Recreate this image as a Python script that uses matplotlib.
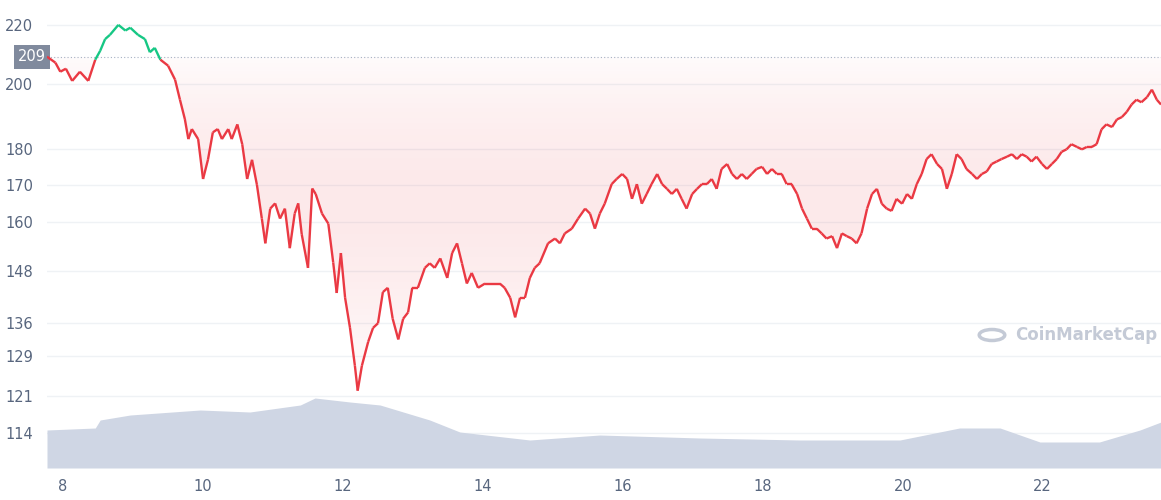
import numpy as np
import matplotlib.pyplot as plt
from matplotlib.collections import LineCollection
from matplotlib.patches import Circle, Polygon

# price data (day of month, USD)
days = [7.77, 7.89, 7.96, 8.04, 8.13, 8.24, 8.36, 8.46, 8.53, 8.60, 8.67, 8.79, 8.89, 8.96, 9.07, 9.17,
        9.24, 9.31, 9.39, 9.50, 9.60, 9.67, 9.74, 9.79, 9.84, 9.93, 10.00, 10.07, 10.14, 10.21, 10.27,
        10.36, 10.41, 10.49, 10.56, 10.63, 10.70, 10.77, 10.84, 10.89, 10.96, 11.03, 11.10, 11.17, 11.24,
        11.31, 11.36, 11.41, 11.50, 11.56, 11.61, 11.70, 11.79, 11.86, 11.91, 11.97, 12.03, 12.10, 12.17,
        12.21, 12.27, 12.36, 12.43, 12.50, 12.57, 12.64, 12.71, 12.79, 12.86, 12.93, 12.99, 13.07, 13.17,
        13.24, 13.31, 13.39, 13.49, 13.56, 13.63, 13.70, 13.77, 13.84, 13.93, 14.03, 14.13, 14.24, 14.31,
        14.39, 14.46, 14.53, 14.60, 14.67, 14.74, 14.81, 14.93, 15.03, 15.10, 15.17, 15.27, 15.36, 15.46,
        15.53, 15.60, 15.67, 15.74, 15.84, 15.91, 15.99, 16.06, 16.13, 16.20, 16.27, 16.34, 16.41, 16.49,
        16.56, 16.63, 16.70, 16.77, 16.84, 16.91, 16.99, 17.06, 17.13, 17.20, 17.27, 17.34, 17.41, 17.49,
        17.56, 17.63, 17.70, 17.77, 17.84, 17.91, 17.99, 18.06, 18.13, 18.20, 18.27, 18.34, 18.41, 18.49,
        18.56, 18.63, 18.70, 18.77, 18.84, 18.91, 18.99, 19.06, 19.13, 19.20, 19.27, 19.34, 19.41, 19.49,
        19.56, 19.63, 19.70, 19.77, 19.84, 19.91, 19.99, 20.06, 20.13, 20.20, 20.27, 20.34, 20.41, 20.49,
        20.56, 20.63, 20.70, 20.77, 20.84, 20.91, 20.99, 21.06, 21.13, 21.20, 21.27, 21.34, 21.41, 21.49,
        21.56, 21.63, 21.70, 21.77, 21.84, 21.91, 21.99, 22.06, 22.13, 22.20, 22.27, 22.34, 22.41, 22.49,
        22.56, 22.63, 22.70, 22.77, 22.84, 22.91, 22.99, 23.06, 23.13, 23.20, 23.27, 23.34, 23.41, 23.49,
        23.56, 23.63, 23.69]
prices = [209, 207, 204, 205, 201, 204, 201, 208, 211, 215, 216.5, 220, 218, 219, 216.5, 215,
          210.5, 212, 208, 206, 201.4, 195, 189, 183, 186, 183, 171.6, 177, 185, 186, 183,
          186, 183, 187.4, 181.5, 171.6, 177, 170, 161, 154.7, 163.6, 165, 161, 163.6, 153.5,
          162.3, 165, 157, 148.7, 169, 167.5, 162.3, 159.7, 150, 142.8, 152.3, 141.7, 135, 127,
          122, 127, 132, 135, 136, 143, 144, 137, 132.5, 137, 138.4, 144, 144, 148.7,
          149.8, 148.7, 151, 146.3, 152.3, 154.7, 149.8, 145, 147.5, 144, 145, 145, 145, 144,
          141.7, 137.3, 141.7, 141.7, 146.3, 148.7, 149.8, 154.7, 155.9, 154.7, 157.2, 158.4, 161, 163.6,
          162.3, 158.4, 162.3, 164.9, 170.2, 171.6, 173, 171.6, 166.2, 170.2, 164.9, 167.5, 170.2, 173,
          170.2, 168.9, 167.5, 168.9, 166.2, 163.6, 167.5, 168.9, 170.2, 170.2, 171.6, 168.9, 174.4, 175.8,
          173, 171.6, 173, 171.6, 173, 174.4, 175, 173, 174.4, 173, 173, 170.2, 170.2, 167.5,
          163.6, 161, 158.4, 158.4, 157.2, 155.9, 156.5, 153.5, 157.2, 156.5, 155.9, 154.7, 157.2, 163.6,
          167.5, 168.9, 164.9, 163.6, 163, 166.2, 164.9, 167.5, 166.2, 170.2, 173, 177.2, 178.6, 175.8,
          174.4, 168.9, 173, 178.6, 177.2, 174.4, 173, 171.6, 173, 173.7, 175.8, 176.5, 177.2, 177.9,
          178.6, 177.2, 178.6, 177.9, 176.5, 177.9, 175.8, 174.4, 175.8, 177.2, 179.3, 180, 181.5, 180.7,
          180, 180.7, 180.7, 181.5, 185.9, 187.4, 186.6, 188.9, 189.6, 191.2, 193.5, 195, 194.2, 195.8,
          198.2, 195, 193.5]

# volume (relative units)
vol_days = [7.77, 8.46, 8.53, 8.96, 9.96, 10.67, 11.39, 11.60, 12.10, 12.53, 13.24, 13.67, 14.67,
            15.67, 17.10, 18.53, 19.96, 20.81, 21.39, 21.96, 22.81, 23.39, 23.69]
volume = [38, 40, 48, 53, 58, 56, 63, 70, 66, 63, 48, 36, 28, 33, 30, 28, 28, 40, 40, 26, 26, 38, 46]

baseline = 209
yticks = [114, 121, 129, 136, 148, 160, 170, 180, 200, 220]
xticks = [8, 10, 12, 14, 16, 18, 20, 22]

red = "#ea3943"
green = "#16c784"
grey = "#58667e"

fig = plt.figure(figsize=(11.61, 5), dpi=100)
ax = fig.add_axes([47 / 1161, 32 / 500, 1114 / 1161, 468 / 500])
ax.set_yscale("log")
ax.set_xlim(7.77, 23.69)
ax.set_ylim(107.7, 229)

# volume on its own axis, grid drawn behind it
axv = ax.twinx()
axv.set_ylim(0, 468)
axv.set_yticks([])
for s in axv.spines.values():
    s.set_visible(False)
for t in yticks:
    ax.axhline(t, color="#eff2f5", lw=1, zorder=0)
axv.fill_between(vol_days, volume, color="#cfd6e4", lw=0, zorder=2)
axv.set_zorder(ax.get_zorder() + 1)
axv.patch.set_visible(False)

x = np.array(days)
y = np.array(prices)

# gradient fill between price and baseline
area = Polygon(np.column_stack([np.r_[x, x[-1], x[0]], np.r_[y, baseline, baseline]]),
               closed=True, transform=ax.transData, fc="none", ec="none")
axv.add_patch(area)
rgba = np.zeros((256, 1, 4))
rgba[..., 0], rgba[..., 1], rgba[..., 2] = 0.92, 0.22, 0.26
rgba[..., 3] = np.linspace(0.02, 0.0, 256).reshape(-1, 1) + np.sin(np.linspace(0, np.pi, 256)).reshape(-1, 1) * 0.1
img = ax.imshow(rgba, aspect="auto", extent=(7.77, 23.69, 118, baseline), origin="upper", zorder=1)
img.set_clip_path(area)

# price line coloured by baseline
pts = np.column_stack([x, y]).reshape(-1, 1, 2)
segs = np.concatenate([pts[:-1], pts[1:]], axis=1)
cols = [green if (a + b) / 2 > baseline else red for a, b in zip(y[:-1], y[1:])]
line = LineCollection(segs, colors=cols, lw=1.7, zorder=4, transform=ax.transData)
axv.add_collection(line)

ax.axhline(baseline, color="#a6b0c3", ls=(0, (1, 2)), lw=0.8, zorder=2)

ax.set_yticks(yticks)
ax.set_yticklabels([str(t) for t in yticks])
ax.yaxis.set_minor_locator(plt.NullLocator())
ax.set_xticks(xticks)
ax.set_xticklabels([str(t) for t in xticks])
ax.tick_params(axis="both", length=0, colors=grey, labelsize=10.5)
ax.tick_params(axis="y", pad=10)
ax.tick_params(axis="x", pad=8)
for s in ax.spines.values():
    s.set_visible(False)
ax.text(-0.001, baseline, "209", transform=ax.get_yaxis_transform(), ha="right", va="center",
        color="white", fontsize=10.5,
        bbox=dict(boxstyle="square,pad=0.3", fc="#808a9d", ec="none"))

# watermark
fig.text(1015 / 1161, 1 - 335 / 500, "CoinMarketCap", color="#c4cad6", fontsize=12,
         fontweight="bold", ha="left", va="center")
fig.patches.append(Circle((992 / 1161, 1 - 335 / 500), 0.011, transform=fig.transFigure,
                          fill=False, ec="#c4cad6", lw=2.5))

fig.savefig("out.png", dpi=100)
